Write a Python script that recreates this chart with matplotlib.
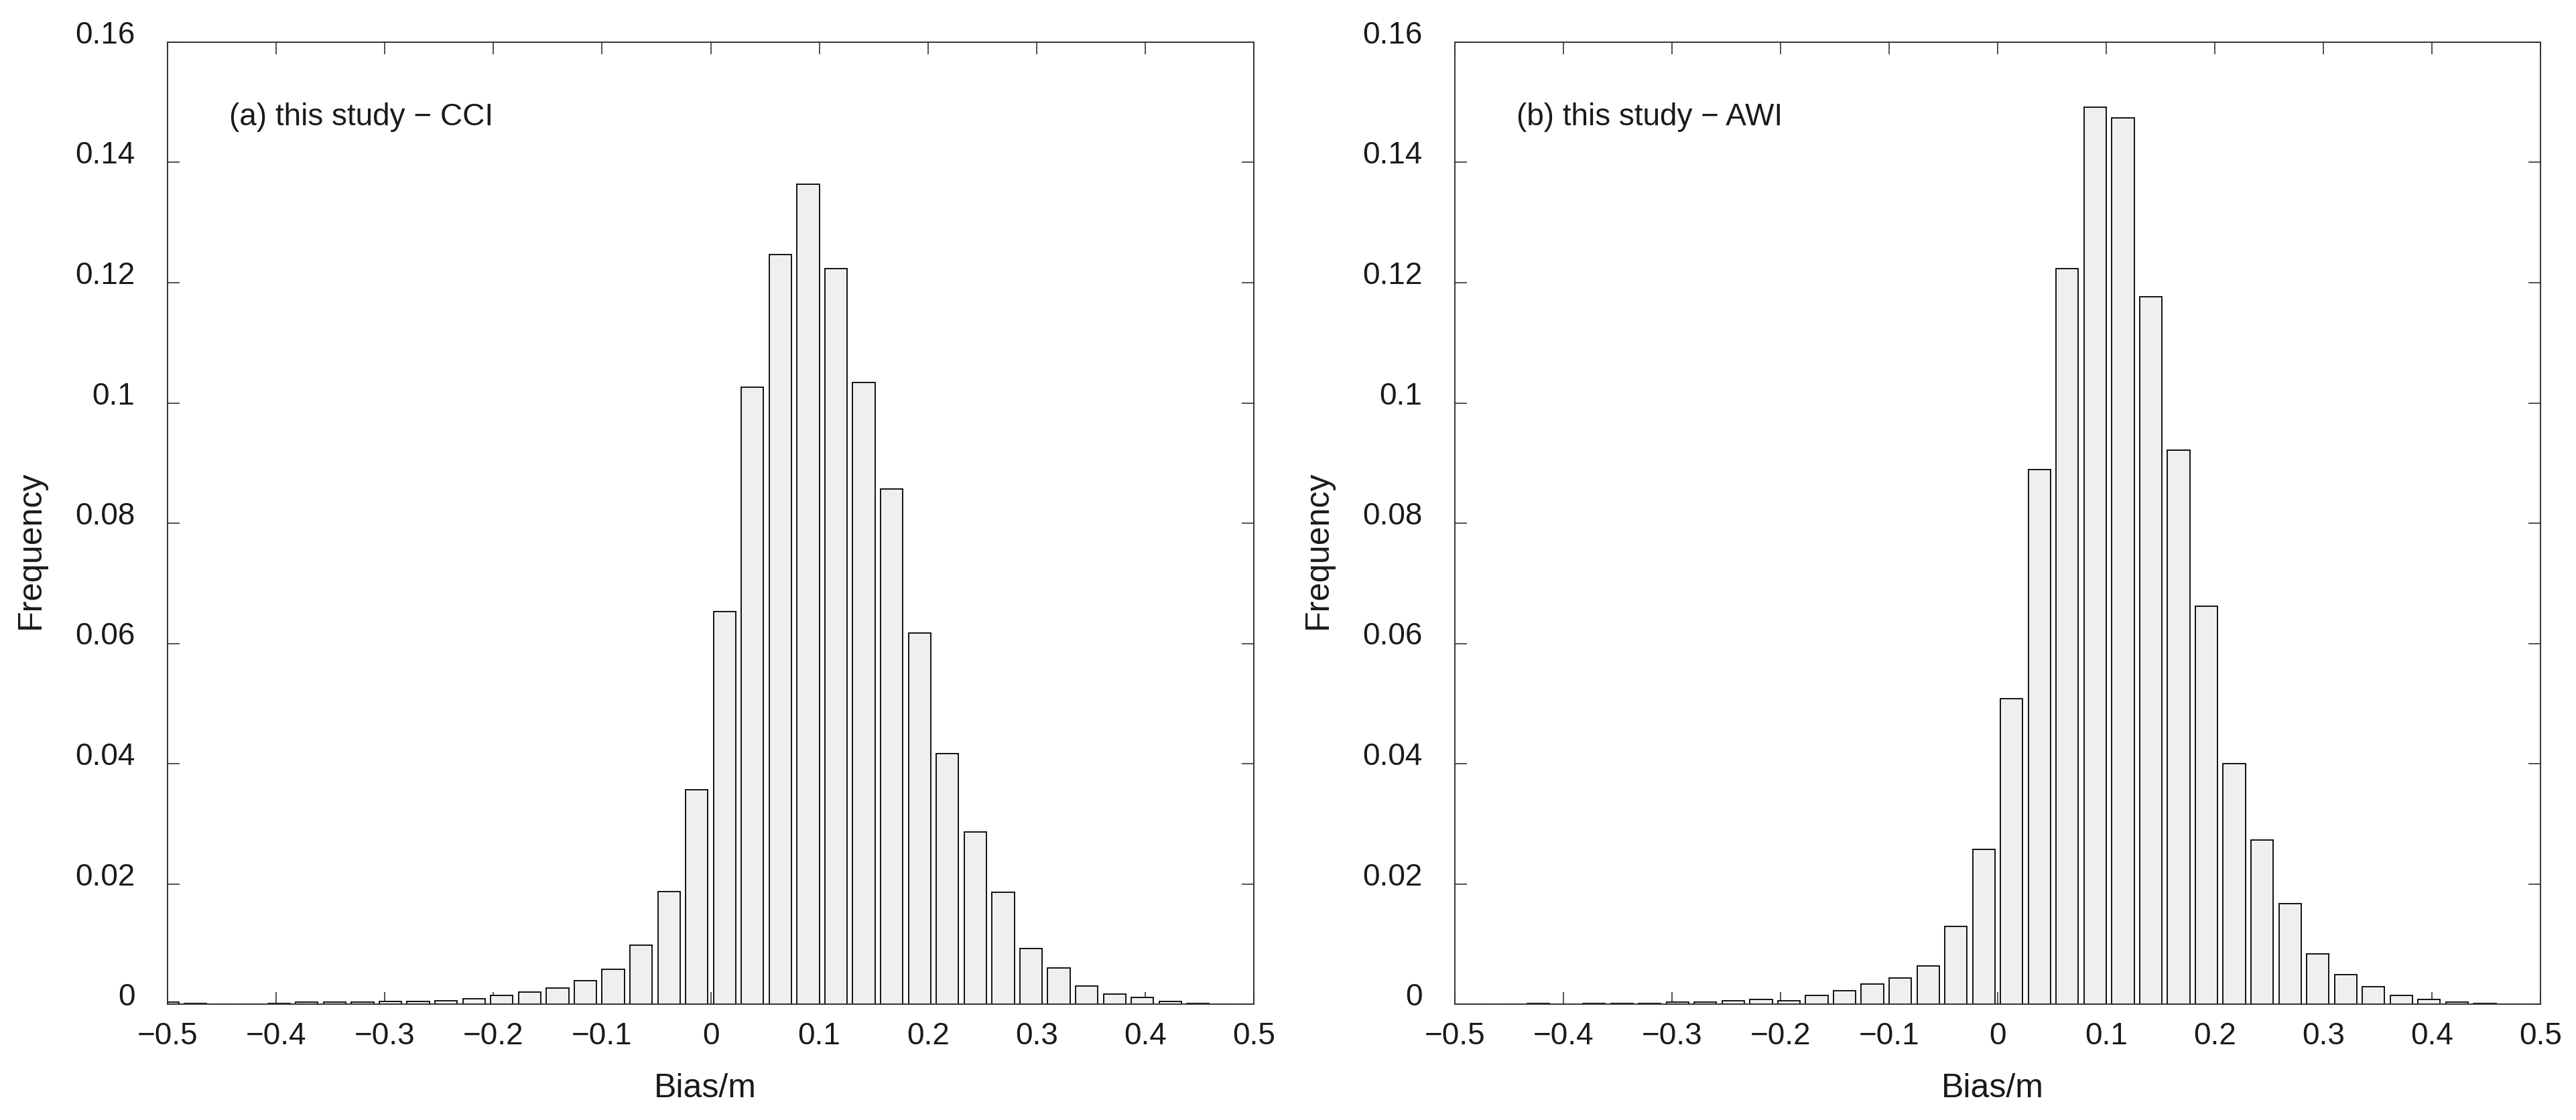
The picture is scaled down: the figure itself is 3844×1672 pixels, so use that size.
import numpy as np
import matplotlib
matplotlib.use("Agg")
import matplotlib.pyplot as plt
from matplotlib.transforms import ScaledTranslation

plt.rcParams['font.family'] = ['Liberation Sans', 'DejaVu Sans']

# ---- data ----
bin_centers = np.linspace(-0.5, 0.5, 40)

freq_cci = [0.0003, 0.00015, 0.0, 0.0, 0.00015, 0.0003, 0.0003, 0.0003, 0.0005, 0.0005,
            0.0006, 0.0009, 0.0014, 0.0020, 0.0027, 0.0039, 0.0058, 0.0098, 0.0187, 0.0357,
            0.0653, 0.1026, 0.1247, 0.1364, 0.1223, 0.1034, 0.0857, 0.0617, 0.0417, 0.0286,
            0.0186, 0.0093, 0.0060, 0.0030, 0.0017, 0.0011, 0.00045, 0.0001, 0.0, 0.0]

freq_awi = [0.0, 0.0, 0.0, 0.00015, 0.0, 0.00015, 0.00015, 0.00015, 0.0003, 0.0003,
            0.0006, 0.0008, 0.0006, 0.0014, 0.0022, 0.0033, 0.0044, 0.0063, 0.0129, 0.0257,
            0.0508, 0.0889, 0.1223, 0.1492, 0.1474, 0.1177, 0.0921, 0.0662, 0.0400, 0.0273,
            0.0167, 0.0084, 0.0049, 0.0029, 0.00145, 0.0008, 0.0003, 0.0001, 0.0, 0.0]

panel_titles = ['(a) this study \u2212 CCI', '(b) this study \u2212 AWI']
x_ticks = [-0.5, -0.4, -0.3, -0.2, -0.1, 0, 0.1, 0.2, 0.3, 0.4, 0.5]
x_ticklabels = ['\u22120.5', '\u22120.4', '\u22120.3', '\u22120.2', '\u22120.1', '0',
                '0.1', '0.2', '0.3', '0.4', '0.5']
y_ticks = [0, 0.02, 0.04, 0.06, 0.08, 0.10, 0.12, 0.14, 0.16]
y_ticklabels = ['0', '0.02', '0.04', '0.06', '0.08', '0.1', '0.12', '0.14', '0.16']
x_label = 'Bias/m'
y_label = 'Frequency'

# ---- figure ----
W, H = 3844, 1672
fig = plt.figure(figsize=(W / 100, H / 100), dpi=100)

axes_rects = [
    [250 / W, (H - 1499) / H, 1621 / W, 1436 / H],
    [2171 / W, (H - 1499) / H, 1620 / W, 1436 / H],
]

bar_width = 0.8 * (bin_centers[1] - bin_centers[0])
spine_col = '#333333'

for rect, freqs, title in zip(axes_rects, [freq_cci, freq_awi], panel_titles):
    ax = fig.add_axes(rect)
    ax.bar(bin_centers, freqs, width=bar_width, color='#efefef',
           edgecolor='black', linewidth=1.3, zorder=2)
    ax.set_xlim(-0.5, 0.5)
    ax.set_ylim(0, 0.16)
    ax.set_xticks(x_ticks)
    ax.set_xticklabels(x_ticklabels)
    ax.set_yticks(y_ticks)
    ax.set_yticklabels(y_ticklabels)
    for s in ax.spines.values():
        s.set_color(spine_col)
        s.set_linewidth(1.4)
        s.set_zorder(5)
    ax.tick_params(axis='both', direction='in', length=13, width=1.2,
                   colors=spine_col, labelcolor='#1a1a1a', labelsize=33,
                   top=True, right=True)
    ax.tick_params(axis='x', pad=19)
    ax.tick_params(axis='y', pad=35)
    # MATLAB-like upward shift of y tick labels
    offset = ScaledTranslation(0, 0.15, fig.dpi_scale_trans)
    for lab in ax.get_yticklabels():
        lab.set_transform(lab.get_transform() + offset)

    ax.set_xlabel(x_label, fontsize=36, color='#1a1a1a', va='center')
    ax.xaxis.set_label_coords(0.495, -0.088)
    ax.set_ylabel(y_label, fontsize=36, color='#1a1a1a', va='center')
    ax.yaxis.set_label_coords(-0.126, 0.472)

    ax.text(0.057, 0.9136, title, transform=ax.transAxes, fontsize=33,
            color='#1a1a1a', va='baseline', ha='left')

fig.savefig('out.png', dpi=100, facecolor='white')
